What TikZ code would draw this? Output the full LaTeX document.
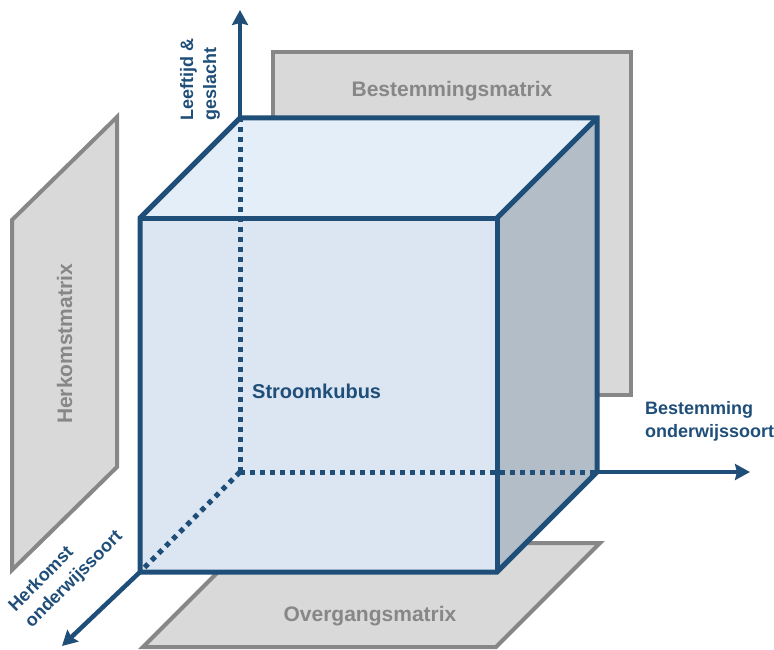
\documentclass[tikz,border=0pt]{standalone}
\usepackage{fontspec}
\setmainfont{Liberation Sans}
\usetikzlibrary{positioning,arrows.meta,calc}
\definecolor{cubeblue}{HTML}{1F4E79}
\definecolor{frontfill}{HTML}{DCE6F2}
\definecolor{topfill}{HTML}{E4EEF8}
\definecolor{sidefill}{HTML}{B3BDC8}
\definecolor{planefill}{HTML}{D9D9D9}
\definecolor{planeline}{HTML}{878787}
\tikzset{
	plane/.style={draw=planeline,fill=planefill,line width=4pt},
	cubeline/.style={draw=cubeblue,line width=5pt},
	hidden/.style={cubeblue,line width=5pt,dash pattern=on 5pt off 5pt},
	axis/.style={cubeblue,line width=4.5pt,-{Stealth[length=15pt,width=16pt,inset=2pt]}},
	planelabel/.style={text=planeline,font=\fontsize{21}{25}\selectfont\bfseries,inner sep=0},
	cubelabel/.style={text=cubeblue,font=\fontsize{20}{24}\selectfont\bfseries,inner sep=0},
	axislabel/.style={text=cubeblue,font=\fontsize{18}{23}\selectfont\bfseries,inner sep=0,align=left}
}

\begin{document}
\begin{tikzpicture}[x=1pt,y=-1pt]
	\useasboundingbox (0,0) rectangle (774,650);
	
	% cube corners (front / back)
	\coordinate (ftl) at (140,218);
	\coordinate (ftr) at (497,218);
	\coordinate (fbr) at (497,572);
	\coordinate (fbl) at (140,572);
	\coordinate (btl) at (240,118);
	\coordinate (btr) at (597,118);
	\coordinate (bbr) at (597,472);
	\coordinate (bbl) at (240,472);
	% arrow ends
	\coordinate (ytip) at (240,10);
	\coordinate (xtip) at (750,472);
	\coordinate (ztip) at (62,646);
	
	% the three matrices
	\draw[plane] (273,52) rectangle (631,395);
	\draw[plane] (12,220) -- (117,117) -- (117,467) -- (12,570) -- cycle;
	\draw[plane] (143,647) -- (247,543) -- (600,543) -- (496,647) -- cycle;
	
	\node[planelabel,anchor=base] (destmatrix) at (452,97) {Bestemmingsmatrix};
	\node[planelabel,anchor=base] (transmatrix) at (370,621) {Overgangsmatrix};
	\node[planelabel,rotate=90,anchor=base] (origmatrix) at (72,344) {Herkomstmatrix};
	
	% cube faces, then its edges
	\fill[topfill] (ftl) -- (btl) -- (btr) -- (ftr) -- cycle;
	\fill[sidefill] (ftr) -- (btr) -- (bbr) -- (fbr) -- cycle;
	\fill[frontfill] (ftl) rectangle (fbr);
	
	\draw[hidden] (bbl) -- (btl);
	\draw[hidden] (bbl) -- (bbr);
	\draw[hidden] (bbl) -- (fbl);
	
	\draw[cubeline] (ftl) -- (btl) -- (btr) -- (bbr) -- (fbr) -- (fbl) -- cycle;
	\draw[cubeline] (ftl) -- (ftr) -- (fbr);
	\draw[cubeline] (ftr) -- (btr);
	
	% axes
	\draw[axis] (btl) -- (ytip);
	\draw[axis] (bbr) -- (xtip);
	\draw[axis] (fbl) -- (ztip);
	
	\node[cubelabel,anchor=base west] (flowcube) at (252,398) {Stroomkubus};
	\node[axislabel,rotate=90,anchor=west] (agelabel) at (200,121) {Leeftijd \&\\geslacht};
	\node[axislabel,anchor=north west] (destlabel) at (645,401) {Bestemming\\onderwijssoort};
	\node[axislabel,rotate=45,anchor=north west] (origlabel) at (6,603) {Herkomst\\onderwijssoort};
\end{tikzpicture}
\end{document}
